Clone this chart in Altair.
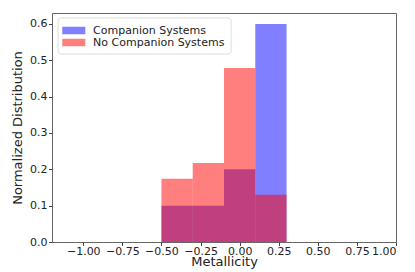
import altair as alt
import pandas as pd

bin_left = [-0.5, -0.3, -0.1, 0.1]
bin_right = [-0.3, -0.1, 0.1, 0.3]
companion = [0.1, 0.1, 0.2, 0.6]
no_companion = [0.174, 0.217, 0.479, 0.13]
series = ["Companion Systems", "No Companion Systems"]
colors = ["blue", "red"]
x_ticks = [-1.0, -0.75, -0.5, -0.25, 0.0, 0.25, 0.5, 0.75, 1.0]
y_ticks = [0.0, 0.1, 0.2, 0.3, 0.4, 0.5, 0.6]

rows = []
for name, vals in zip(series, [companion, no_companion]):
    for l, r, v in zip(bin_left, bin_right, vals):
        rows.append({"series": name, "left": l, "right": r, "value": v, "base": 0.0})
df = pd.DataFrame(rows)

font = "DejaVu Sans"

chart = alt.Chart(df).mark_rect(opacity=0.5, strokeWidth=0).encode(
    x=alt.X("left:Q", scale=alt.Scale(domain=[-1.2, 1.0], nice=False, zero=False),
            axis=alt.Axis(values=x_ticks, format=".2f", title="Metallicity", grid=False)),
    x2="right:Q",
    y=alt.Y("value:Q", stack=None, scale=alt.Scale(domain=[0, 0.63], nice=False),
            axis=alt.Axis(values=y_ticks, format=".1f", title="Normalized Distribution", grid=False)),
    y2="base:Q",
    color=alt.Color("series:N", scale=alt.Scale(domain=series, range=colors),
                    legend=alt.Legend(title=None, orient="none", legendX=5.6, legendY=4.5,
                                      fillColor="white", strokeColor="#dddddd", cornerRadius=3,
                                      padding=6, rowPadding=-1,
                                      symbolType="M-1.19,-0.536H2.1V0.536H-1.19Z", symbolSize=196,
                                      symbolOpacity=0.5, symbolStrokeWidth=0,
                                      labelFont=font, labelFontSize=11, labelColor="#222",
                                      labelOffset=15.5)),
    order=alt.Order("series:N"),
).properties(
    width=344, height=229,
    autosize=alt.AutoSizeParams(type="none"),
    padding={"left": 44, "top": 5, "right": 10, "bottom": 30},
).configure_view(
    stroke="#666", strokeWidth=1
).configure_axis(
    domain=False, tickColor="#444", tickSize=3.5, labelFont=font, labelFontSize=11,
    labelColor="#222", titleFont=font, titleFontSize=13, titleFontWeight="normal",
    titleColor="#222", labelPadding=1.5
).configure_axisX(labelPadding=0, titlePadding=-1).configure_axisY(titlePadding=5)

chart.save("out.html", embed_options={"renderer": "svg", "actions": False})
